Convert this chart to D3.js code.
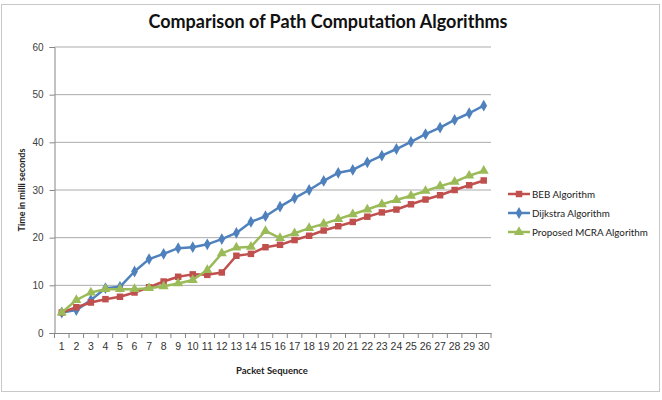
<!DOCTYPE html>
<html><head><meta charset="utf-8">
<script src="https://cdn.jsdelivr.net/npm/d3@7"></script>
<style>body{margin:0;background:#fff;}svg{display:block;font-family:Lato,"Open Sans",sans-serif;}</style>
</head><body><svg id="c" width="662" height="400"></svg>
<script>
const categories = d3.range(1, 31).map(String);
const yTicks = [0, 10, 20, 30, 40, 50, 60];
const bebValues = [4.3,5.4,6.4,7.1,7.6,8.5,9.6,10.8,11.8,12.3,12.2,12.7,16.2,16.6,18.0,18.5,19.5,20.4,21.5,22.4,23.3,24.4,25.3,25.9,27.0,28.0,28.9,30.0,31.0,32.0];
const dijkstraValues = [4.3,4.8,6.9,9.4,9.7,12.9,15.5,16.6,17.8,18.0,18.6,19.7,21.0,23.3,24.5,26.5,28.3,30.0,31.9,33.6,34.2,35.8,37.2,38.6,40.1,41.7,43.1,44.7,46.1,47.7];
const mcraValues = [4.3,6.9,8.5,9.2,9.2,9.2,9.4,9.8,10.4,11.1,13.2,16.7,17.9,18.1,21.4,19.9,20.9,22.0,22.9,23.9,24.9,25.9,27.0,27.9,28.8,29.8,30.8,31.7,33.0,34.0];
const seriesNames = ["BEB Algorithm", "Dijkstra Algorithm", "Proposed MCRA Algorithm"];

const series = [
  {name: seriesNames[0], values: bebValues, color: "#C0504D", symbol: d3.symbolSquare, size: 42},
  {name: seriesNames[1], values: dijkstraValues, color: "#4F81BD", symbol: d3.symbolDiamond, size: 40},
  {name: seriesNames[2], values: mcraValues, color: "#9BBB59", symbol: d3.symbolTriangle, size: 44}
];
const drawOrder = [series[1], series[0], series[2]];

const svg = d3.select("#c");
svg.append("rect").attr("x", 1.5).attr("y", 4.5).attr("width", 658).attr("height", 387)
  .attr("fill", "#fff").attr("stroke", "#c8c8c8");

const L = 54.5, R = 491, T = 47, B = 333;
const x = d3.scaleBand().domain(categories).range([L, R]);
const y = d3.scaleLinear().domain([0, 60]).range([B, T]);

svg.append("g").selectAll("line").data(yTicks.filter(d => d > 0)).join("line")
  .attr("x1", L).attr("x2", R).attr("y1", d => y(d)).attr("y2", d => y(d))
  .attr("stroke", "#ababab").attr("stroke-width", 1);

const yAxis = svg.append("g").attr("transform", `translate(${L},0)`)
  .call(d3.axisLeft(y).tickValues(yTicks).tickSize(5).tickPadding(6));
yAxis.select(".domain").attr("stroke", "#868686");
yAxis.selectAll(".tick line").attr("stroke", "#868686");
yAxis.selectAll("text").attr("font-size", 10).attr("fill", "#404040");

const xAxis = svg.append("g").attr("transform", `translate(0,${B})`)
  .call(d3.axisBottom(x).tickSize(0).tickPadding(10));
xAxis.select(".domain").attr("stroke", "#868686");
xAxis.selectAll("text").attr("font-size", 10.5).attr("fill", "#333");
svg.append("g").selectAll("line").data(categories).join("line")
  .attr("x1", d => x(d)).attr("x2", d => x(d)).attr("y1", B).attr("y2", B + 5)
  .attr("stroke", "#868686");
svg.append("line").attr("x1", R).attr("x2", R).attr("y1", B).attr("y2", B + 5).attr("stroke", "#868686");

const cx = (d, i) => x(categories[i]) + x.bandwidth() / 2;
const line = d3.line().x((d, i) => cx(d, i)).y(d => y(d));

drawOrder.forEach(s => {
  svg.append("path").datum(s.values).attr("d", line)
    .attr("fill", "none").attr("stroke", s.color).attr("stroke-width", 2.5)
    .attr("stroke-linejoin", "round");
  svg.append("g").selectAll("path").data(s.values).join("path")
    .attr("transform", (d, i) => `translate(${cx(d, i)},${y(d)})`)
    .attr("d", d3.symbol().type(s.symbol).size(s.size))
    .attr("fill", s.color);
});

svg.append("text").attr("x", 328).attr("y", 28).attr("text-anchor", "middle")
  .attr("font-size", 18).attr("font-weight", "bold").attr("fill", "#111")
  .text("Comparison of Path Computation Algorithms");

svg.append("text").attr("transform", "translate(25,190) rotate(-90)")
  .attr("text-anchor", "middle").attr("font-size", 9).attr("font-weight", "bold").attr("fill", "#222")
  .text("Time in milli seconds");
svg.append("text").attr("x", 272).attr("y", 374).attr("text-anchor", "middle")
  .attr("font-size", 9.5).attr("font-weight", "bold").attr("fill", "#222")
  .text("Packet Sequence");

const lg = svg.append("g");
series.forEach((s, i) => {
  const ly = 194 + i * 19;
  lg.append("line").attr("x1", 508).attr("x2", 530).attr("y1", ly).attr("y2", ly)
    .attr("stroke", s.color).attr("stroke-width", 2.5);
  lg.append("path").attr("transform", `translate(519,${ly})`)
    .attr("d", d3.symbol().type(s.symbol).size(s.size)).attr("fill", s.color);
  lg.append("text").attr("x", 532).attr("y", ly + 3.5).attr("font-size", 9.8).attr("fill", "#222")
    .text(s.name);
});
</script></body></html>
